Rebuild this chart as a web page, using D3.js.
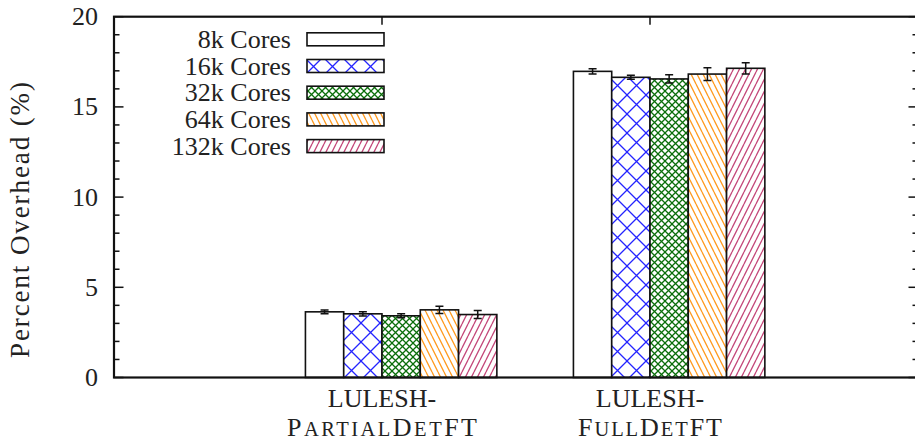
<!DOCTYPE html>
<html>
<head>
<meta charset="utf-8">
<script src="https://cdn.jsdelivr.net/npm/d3@7"></script>
<style>
  html, body { margin: 0; padding: 0; background: #ffffff; }
  svg { display: block; }
  text { font-family: "Liberation Serif", "DejaVu Serif", serif; fill: #222; }
</style>
</head>
<body>
<svg id="chart" width="915" height="442" font-family="Liberation Serif, DejaVu Serif, serif"></svg>
<script>
// ---------------- data ----------------
const groupLine1 = ["LULESH-", "LULESH-"];
const groupLine2 = ["PartialDetFT", "FullDetFT"];
const seriesNames = ["8k Cores", "16k Cores", "32k Cores", "64k Cores", "132k Cores"];
const cores8k   = [3.64, 16.97];
const cores16k  = [3.53, 16.64];
const cores32k  = [3.42, 16.55];
const cores64k  = [3.75, 16.82];
const cores132k = [3.49, 17.14];
const err8k   = [0.10, 0.14];
const err16k  = [0.12, 0.11];
const err32k  = [0.11, 0.23];
const err64k  = [0.20, 0.35];
const err132k = [0.22, 0.31];
const yTickValues = [0, 5, 10, 15, 20];
const yLabel = "Percent Overhead (%)";

const seriesValues = [cores8k, cores16k, cores32k, cores64k, cores132k];
const seriesErrors = [err8k, err16k, err32k, err64k, err132k];

// layout-only constants (text widths matched to reference typesetting)
const line2Widths = [190, 144];
const yLabelWidth = 276;

(function () {
const svg = d3.select("#chart");
const pL = 114, pR = 918, pT = 16.7, pB = 377.5;
const x = d3.scaleLinear().domain([-1, 2]).range([pL, pR]);
const y = d3.scaleLinear().domain([0, 20]).range([pB, pT]);
const nSeries = seriesNames.length;
const barUnit = 1 / (nSeries + 2);

// ---------------- patterns ----------------
const defs = svg.append("defs");
function crossPattern(id, size, color, sw) {
  const p = defs.append("pattern").attr("id", id)
    .attr("patternUnits", "userSpaceOnUse").attr("width", size).attr("height", size);
  p.append("rect").attr("width", size).attr("height", size).attr("fill", "#fff");
  p.append("path").attr("d", `M0,0L${size},${size}M0,${size}L${size},0`)
    .attr("stroke", color).attr("stroke-width", sw).attr("fill", "none");
}
function linePattern(id, s, color, sw, dir) {
  const h = 2 * s;
  const p = defs.append("pattern").attr("id", id)
    .attr("patternUnits", "userSpaceOnUse").attr("width", s).attr("height", h);
  p.append("rect").attr("width", s).attr("height", h).attr("fill", "#fff");
  let d = "";
  [-s, 0, s].forEach(o => {
    if (dir === "back") d += `M${o},0L${o + s},${h}`;
    else d += `M${o},${h}L${o + s},0`;
  });
  p.append("path").attr("d", d).attr("stroke", color).attr("stroke-width", sw).attr("fill", "none");
}
crossPattern("p16", 19, "#2424ff", 1.3);
crossPattern("p32", 7, "#0b6e0b", 1.3);
linePattern("p64", 6, "#ff9a1f", 1.3, "back");
linePattern("p132", 6, "#c4487a", 1.3, "fwd");
const fills = ["#ffffff", "url(#p16)", "url(#p32)", "url(#p64)", "url(#p132)"];

// ---------------- bars ----------------
const barData = [];
seriesValues.forEach((vals, i) => {
  vals.forEach((v, g) => {
    barData.push({ s: i, g: g, v: v, e: seriesErrors[i][g] });
  });
});
svg.append("g").selectAll("rect").data(barData).enter().append("rect")
  .attr("x", d => x(d.g + (d.s - 2) * barUnit))
  .attr("width", d => x(d.g + (d.s - 1) * barUnit) - x(d.g + (d.s - 2) * barUnit))
  .attr("y", d => y(d.v))
  .attr("height", d => y(0) - y(d.v))
  .attr("fill", d => fills[d.s])
  .attr("stroke", "#111").attr("stroke-width", 1.6);

// error bars
const errG = svg.append("g").attr("stroke", "#111").attr("stroke-width", 1.5).attr("fill", "none");
barData.forEach(d => {
  const cx = x(d.g + (d.s - 1.5) * barUnit);
  errG.append("path").attr("d",
    `M${cx},${y(d.v - d.e)}L${cx},${y(d.v + d.e)}` +
    `M${cx - 4},${y(d.v - d.e)}L${cx + 4},${y(d.v - d.e)}` +
    `M${cx - 4},${y(d.v + d.e)}L${cx + 4},${y(d.v + d.e)}`);
});

// ---------------- axes / frame ----------------
const axG = svg.append("g").attr("stroke", "#111").attr("fill", "none");
y.ticks(20).forEach(t => {
  const isMajor = yTickValues.includes(t);
  const len = isMajor ? 9.5 : 5.5;
  axG.append("line").attr("x1", pL).attr("x2", pL + len).attr("y1", y(t)).attr("y2", y(t)).attr("stroke-width", 1.5);
  axG.append("line").attr("x1", pR).attr("x2", pR - len).attr("y1", y(t)).attr("y2", y(t)).attr("stroke-width", 1.5);
});
[0, 1].forEach(g => {
  axG.append("line").attr("x1", x(g)).attr("x2", x(g)).attr("y1", pT).attr("y2", pT + 8).attr("stroke-width", 1.5);
});
axG.append("rect").attr("x", pL).attr("y", pT).attr("width", pR - pL).attr("height", pB - pT)
  .attr("stroke-width", 2.2);

// y tick labels
svg.append("g").selectAll("text").data(yTickValues).enter().append("text")
  .attr("x", 98).attr("y", d => y(d) + 8.5)
  .attr("text-anchor", "end").attr("font-size", 26)
  .text(d => d);

// y label
svg.append("text")
  .attr("transform", `translate(29,220) rotate(-90)`)
  .attr("text-anchor", "middle").attr("font-size", 27)
  .attr("textLength", yLabelWidth).attr("lengthAdjust", "spacing")
  .text(yLabel);

// x labels: two lines, second line in small caps
groupLine1.forEach((l1, g) => {
  svg.append("text").attr("text-anchor", "middle").attr("font-size", 26)
    .attr("x", x(g)).attr("y", 407).text(l1);
  const l2 = svg.append("text").attr("text-anchor", "middle").attr("font-size", 26)
    .attr("x", x(g)).attr("y", 436)
    .attr("textLength", line2Widths[g]).attr("lengthAdjust", "spacing");
  const runs = groupLine2[g].match(/[A-Z]+|[^A-Z]+/g);
  runs.forEach(r => {
    const isUpper = /[A-Z]/.test(r[0]);
    l2.append("tspan").attr("font-size", isUpper ? 26 : 20.5).text(r.toUpperCase());
  });
});

// ---------------- legend ----------------
const lg = svg.append("g");
seriesNames.forEach((name, i) => {
  const cy = 39.3 + i * 26.7;
  lg.append("text").attr("x", 291).attr("y", cy + 8.5).attr("text-anchor", "end")
    .attr("font-size", 26).text(name);
  lg.append("rect").attr("x", 307).attr("y", cy - 6.5).attr("width", 77).attr("height", 13)
    .attr("fill", fills[i]).attr("stroke", "#111").attr("stroke-width", 1.6);
});
})();
</script>
</body>
</html>
